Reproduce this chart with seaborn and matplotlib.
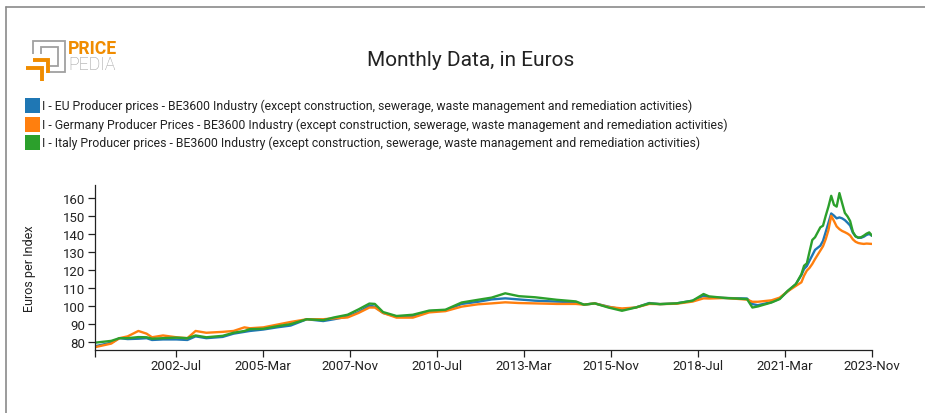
import numpy as np
import pandas as pd
import matplotlib
matplotlib.use("Agg")
import matplotlib.pyplot as plt
import matplotlib.dates as mdates
from matplotlib.lines import Line2D
from matplotlib.patches import Rectangle
import seaborn as sns

# ---------------- data ----------------
months = ["2000-01", "2000-07", "2000-10", "2001-01", "2001-05", "2001-08", "2001-10", "2002-02",
          "2002-07", "2002-11", "2003-02", "2003-06", "2003-12", "2004-04", "2004-08", "2004-10",
          "2005-03", "2005-08", "2006-01", "2006-07", "2007-01", "2007-05", "2007-10", "2008-02",
          "2008-06", "2008-08", "2008-11", "2009-04", "2009-10", "2010-04", "2010-10", "2011-04",
          "2011-10", "2012-03", "2012-08", "2013-01", "2013-07", "2014-03", "2014-10", "2015-01",
          "2015-05", "2015-10", "2016-03", "2016-08", "2017-01", "2017-05", "2017-11", "2018-05",
          "2018-09", "2018-11", "2019-05", "2020-01", "2020-03", "2020-05", "2020-10", "2021-01",
          "2021-04", "2021-07", "2021-09", "2021-10", "2021-11", "2021-12", "2022-01", "2022-02",
          "2022-04", "2022-05", "2022-06", "2022-07", "2022-08", "2022-09", "2022-10", "2022-11",
          "2022-12", "2023-01", "2023-02", "2023-03", "2023-04", "2023-05", "2023-06", "2023-07",
          "2023-08", "2023-09", "2023-10", "2023-11"]

eu = [77.5, 79.5, 82.0, 81.5, 81.7, 82.0, 81.0, 81.3,
      81.3, 81.0, 83.0, 82.0, 82.7, 84.5, 85.5, 86.0,
      86.8, 88.0, 89.0, 92.5, 91.5, 92.5, 94.0, 96.5,
      100.0, 99.5, 96.0, 94.0, 94.3, 97.0, 97.5, 101.0,
      102.2, 103.5, 104.1, 103.5, 102.8, 102.3, 101.9, 100.6,
      101.3, 99.5, 98.0, 99.0, 101.5, 100.9, 101.3, 102.8,
      105.6, 104.7, 104.3, 104.0, 100.9, 100.3, 102.0, 104.0,
      108.0, 112.0, 117.0, 120.4, 122.0, 125.0, 128.0, 131.0,
      133.3, 136.0, 141.0, 146.0, 151.2, 150.0, 148.5, 149.0,
      148.5, 147.5, 146.0, 144.5, 140.5, 138.5, 137.7, 137.7,
      138.3, 139.3, 139.8, 138.8]

germany = [77.0, 79.0, 82.0, 83.0, 86.0, 84.5, 82.5, 83.5,
           82.5, 82.0, 86.0, 85.0, 85.5, 86.0, 88.0, 87.5,
           88.0, 89.5, 91.0, 92.5, 92.5, 93.0, 93.5, 96.0,
           99.0, 99.0, 96.0, 93.4, 93.4, 96.3, 97.0, 99.5,
           100.8, 101.3, 101.9, 101.5, 101.3, 101.0, 101.0, 100.6,
           101.3, 99.3, 98.5, 99.0, 101.0, 100.9, 101.1, 102.3,
           104.1, 104.0, 104.3, 103.4, 102.2, 102.2, 103.0, 104.5,
           108.0, 111.0, 113.0, 116.7, 119.5, 121.0, 123.2, 125.9,
           130.6, 133.0, 137.0, 142.0, 149.9, 147.0, 144.0, 142.5,
           141.5, 140.8, 140.0, 139.0, 136.8, 135.5, 134.8, 134.5,
           134.3, 134.5, 134.4, 134.3]

italy = [79.5, 80.5, 82.0, 82.0, 82.6, 82.5, 81.7, 82.0,
         82.3, 82.0, 83.5, 82.5, 83.3, 85.0, 86.0, 87.0,
         87.2, 88.6, 89.8, 92.5, 92.0, 93.5, 95.0, 98.0,
         101.2, 101.0, 96.5, 94.3, 95.0, 97.3, 97.8, 101.8,
         103.3, 104.5, 106.9, 105.3, 104.7, 103.3, 102.4, 100.6,
         101.3, 99.0, 97.2, 99.0, 101.3, 100.9, 101.3, 102.8,
         106.5, 105.2, 104.3, 103.7, 99.0, 99.6, 101.8, 103.7,
         108.3, 112.0, 117.5, 122.2, 123.5, 130.0, 136.5, 138.0,
         143.5, 144.4, 150.0, 155.0, 161.0, 156.0, 155.0, 162.5,
         157.0, 151.5, 149.5, 147.0, 141.0, 138.5, 137.8, 138.0,
         138.9, 140.0, 140.7, 138.9]

series_names = [
    "I - EU Producer prices - BE3600 Industry (except construction, sewerage, waste management and remediation activities)",
    "I - Germany Producer Prices - BE3600 Industry (except construction, sewerage, waste management and remediation activities)",
    "I - Italy Producer prices - BE3600 Industry (except construction, sewerage, waste management and remediation activities)",
]
colors = ["#1f77b4", "#ff7f0e", "#2ca02c"]

tick_months = ["2000-01", "2002-07", "2005-03", "2007-11", "2010-07", "2013-03",
               "2015-11", "2018-07", "2021-03", "2023-11"]
tick_labels = ["", "2002-Jul", "2005-Mar", "2007-Nov", "2010-Jul", "2013-Mar",
               "2015-Nov", "2018-Jul", "2021-Mar", "2023-Nov"]
y_ticks = [80, 90, 100, 110, 120, 130, 140, 150, 160]

# ---------------- build long table ----------------
dates = pd.to_datetime(months, format="%Y-%m")
df = pd.concat([
    pd.DataFrame({"date": dates, "value": vals, "series": name})
    for name, vals in zip(series_names, [eu, germany, italy])
], ignore_index=True)

# ---------------- figure ----------------
sns.set_theme(style="white")
plt.rcParams["font.family"] = ["Roboto", "DejaVu Sans"]

W, H = 925, 414
fig = plt.figure(figsize=(W / 100, H / 100), dpi=100)

def fx(x):
    return x / W

def fy(y):
    return 1 - y / H

ax_l, ax_r = 95, 872
ax = fig.add_axes([fx(ax_l), fy(350.7), fx(ax_r) - fx(ax_l), fy(186) - fy(350.7)])

sns.lineplot(data=df, x="date", y="value", hue="series", hue_order=series_names,
             palette=colors, linewidth=1.7, ax=ax, legend=False)

ax.set_xlim(pd.Timestamp("2000-01-01"), pd.Timestamp("2023-11-01"))
ax.set_ylim(75.6, 167)
ax.set_xticks(pd.to_datetime(tick_months, format="%Y-%m"))
ax.set_xticklabels(tick_labels)
ax.set_yticks(y_ticks)
ax.set_yticklabels([str(v) for v in y_ticks])
ax.tick_params(axis="both", direction="out", length=5, width=0.9, color="#222222",
               labelsize=9.5, labelcolor="#222222", pad=2, bottom=True, left=True)
for side in ["top", "right"]:
    ax.spines[side].set_visible(False)
for side in ["left", "bottom"]:
    ax.spines[side].set_color("#222222")
    ax.spines[side].set_linewidth(0.9)
ax.set_xlabel("")
ax.set_ylabel("Euros per Index", fontsize=9, color="#222222")
ax.yaxis.set_label_coords((36 - ax_l) / (ax_r - ax_l), 0.5)

# ---------------- title ----------------
fig.text(fx(471), fy(60), "Monthly Data, in Euros", ha="center", va="center",
         fontsize=15, color="#222222")

# ---------------- legend ----------------
rows_y = [106.7, 125.0, 143.3]
for yy, name, col in zip(rows_y, series_names, colors):
    fig.add_artist(Rectangle((fx(25), fy(yy + 7.5)), fx(15), fy(yy - 7.5) - fy(yy + 7.5),
                             transform=fig.transFigure, facecolor=col, edgecolor="none"))
    fig.text(fx(41.5), fy(yy), name, ha="left", va="center", fontsize=8.8, color="#222222")

# ---------------- border ----------------
fig.add_artist(Line2D([fx(5.5), fx(5.5)], [fy(8.3), fy(414)], transform=fig.transFigure,
                      color="#8a8a8a", lw=1.2))
fig.add_artist(Line2D([fx(5.5), fx(925)], [fy(8.3), fy(8.3)], transform=fig.transFigure,
                      color="#8a8a8a", lw=1.2))

# ---------------- logo ----------------
def poly(pts, col, lw):
    fig.add_artist(Line2D([fx(p[0]) for p in pts], [fy(p[1]) for p in pts],
                          transform=fig.transFigure, color=col, lw=lw,
                          solid_joinstyle="miter", solid_capstyle="butt"))

grey = "#a0a0a0"
orange = "#f08c00"
poly([(33.3, 55), (33.3, 41.7), (65, 41.7), (65, 73.3), (50, 73.3)], grey, 1.3)
poly([(40.7, 55), (40.7, 48.3), (58.3, 48.3), (58.3, 66.7), (50, 66.7)], grey, 1.3)
poly([(33, 60.8), (48.3, 60.8), (48.3, 73.5)], orange, 2.8)
poly([(26, 69.2), (42.3, 69.2), (42.3, 82)], orange, 2.8)
fig.text(fx(68), fy(49), "PRICE", ha="left", va="center", fontsize=12.7,
         fontweight="bold", color=orange)
fig.text(fx(68), fy(65.5), "PEDIA", ha="left", va="center", fontsize=12.7,
         fontweight="light", color="#999999")

fig.savefig("out.png", dpi=100)
